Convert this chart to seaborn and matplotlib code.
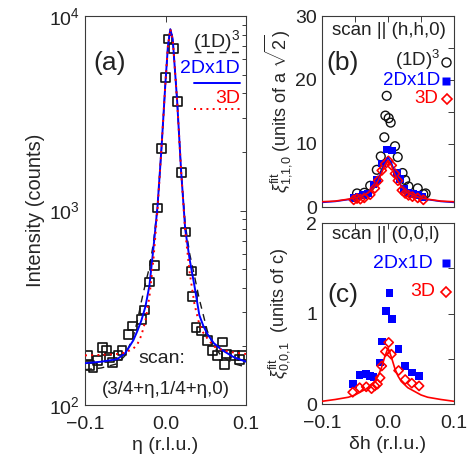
import matplotlib
matplotlib.use("Agg")
import matplotlib.pyplot as plt
import seaborn as sns
from matplotlib.ticker import FixedLocator, LogLocator, NullFormatter

# ---------------- data: panel (a) ----------------
eta_pts = [-0.0965, -0.094, -0.090, -0.084, -0.078, -0.0737, -0.0696, -0.0655, -0.059, -0.054,
           -0.0456, -0.0406, -0.030, -0.026, -0.0199, -0.0137, -0.0103, -0.0053, 0.0, 0.003,
           0.0103, 0.0145, 0.0195, 0.0245, 0.0319, 0.034, 0.038, 0.0443, 0.0518, 0.0588,
           0.065, 0.0704, 0.0733, 0.0754, 0.0857, 0.092, 0.096]
counts_pts = [179, 160, 156, 169, 198, 190, 176, 165, 179, 190,
              231, 255, 276, 308, 429, 522, 1030, 2090, 4830, 7620,
              6780, 3630, 1570, 775, 489, 363, 250, 240, 214, 190,
              179, 211, 162, 183, 179, 172, 179]

eta_fit = [-0.100, -0.080, -0.060, -0.050, -0.040, -0.035, -0.030, -0.025, -0.020, -0.015,
           -0.010, -0.005, 0.000, 0.003, 0.006, 0.009, 0.0145, 0.0195, 0.0245, 0.030,
           0.036, 0.042, 0.047, 0.052, 0.060, 0.070, 0.085, 0.100]
fit_2dx1d = [164, 167, 172, 185, 215, 240, 272, 320, 410, 640,
             1040, 2090, 4600, 7000, 8550, 7600, 3630, 1570, 800, 560,
             409, 290, 255, 232, 208, 192, 176, 167]
fit_3d = [180, 181, 183, 186, 195, 205, 228, 270, 360, 560,
          1000, 2090, 4600, 7000, 8550, 7600, 3630, 1570, 780, 480,
          330, 260, 235, 220, 200, 192, 186, 183]
fit_1d3 = [152, 155, 163, 180, 225, 270, 340, 420, 510, 680,
           1040, 2090, 4600, 7000, 8550, 7600, 3630, 1570, 850, 600,
           460, 350, 290, 240, 200, 178, 163, 157]

# ---------------- data: panel (b) ----------------
dh_b_1d3 = [-0.047, -0.036, -0.027, -0.017, -0.011, -0.0056, -0.004, -0.002, 0.001, 0.004,
            0.0106, 0.0147, 0.022, 0.026, 0.031, 0.045, 0.0535, 0.057]
xi_b_1d3 = [2.2, 2.3, 3.4, 5.9, 8.0, 11.0, 14.4, 17.5, 14.0, 13.3,
            9.6, 7.9, 5.4, 4.3, 3.3, 3.0, 2.1, 2.2]
dh_b_2d = [-0.052, -0.045, -0.038, -0.030, -0.022, -0.017, -0.0095, -0.002, 0.0056, 0.014,
           0.018, 0.024, 0.030, 0.038, 0.045, 0.052]
xi_b_2d = [1.5, 1.7, 2.0, 2.2, 3.6, 4.3, 6.9, 9.1, 8.9, 5.4,
           4.5, 2.9, 2.3, 2.1, 2.0, 1.6]
dh_b_3d = [-0.052, -0.047, -0.042, -0.036, -0.027, -0.020, -0.015, -0.0095, -0.0045, 0.0005,
           0.0056, 0.0106, 0.015, 0.021, 0.026, 0.031, 0.037, 0.045, 0.0535]
xi_b_3d = [1.2, 1.4, 1.3, 1.5, 2.0, 3.0, 4.2, 5.8, 6.8, 7.3,
           6.6, 5.3, 4.2, 2.7, 2.2, 1.9, 1.7, 1.5, 1.2]
dh_line = [-0.10, -0.08, -0.06, -0.05, -0.04, -0.03, -0.02, -0.015, -0.01, -0.005, 0.0,
           0.005, 0.01, 0.015, 0.02, 0.03, 0.04, 0.05, 0.06, 0.08, 0.10]
xi_b_line_2d = [0.8, 0.95, 1.25, 1.5, 1.8, 2.35, 3.4, 4.4, 5.6, 7.0, 7.8,
                7.0, 5.6, 4.4, 3.4, 2.35, 1.8, 1.5, 1.25, 0.95, 0.8]
xi_b_line_3d = [0.9, 1.0, 1.3, 1.5, 1.8, 2.3, 3.3, 4.2, 5.3, 6.6, 7.4,
                6.6, 5.3, 4.2, 3.3, 2.3, 1.8, 1.5, 1.3, 1.0, 0.9]

# ---------------- data: panel (c) ----------------
dh_c_2d = [-0.0535, -0.043, -0.033, -0.027, -0.022, -0.012, -0.009, -0.0035, 0.002, 0.006,
           0.016, 0.026, 0.036, 0.047]
xi_c_2d = [0.22, 0.32, 0.33, 0.31, 0.30, 0.46, 0.69, 1.03, 1.23, 0.94,
           0.61, 0.42, 0.35, 0.31]
dh_c_3d = [-0.0535, -0.043, -0.033, -0.025, -0.020, -0.016, -0.012, -0.0095, -0.004, 0.001,
           0.005, 0.016, 0.026, 0.036, 0.047]
xi_c_3d = [0.13, 0.18, 0.19, 0.17, 0.20, 0.22, 0.29, 0.42, 0.58, 0.68,
           0.55, 0.37, 0.27, 0.23, 0.20]
xi_c_line_3d = [0.03, 0.05, 0.075, 0.10, 0.14, 0.18, 0.25, 0.31, 0.40, 0.52, 0.62,
                0.52, 0.40, 0.31, 0.25, 0.18, 0.14, 0.10, 0.075, 0.05, 0.03]

x_ticks = [-0.1, 0.0, 0.1]
x_ticklabels = ["\u22120.1", "0.0", "0.1"]
x_minor = [-0.05, 0.05]
b_yticks = [0, 10, 20, 30]
b_yminor = [5, 15, 25]
c_yticks = [0, 1, 2]
c_yminor = [0.5, 1.5]

# ---------------- style ----------------
sns.set_theme(style="white")
plt.rcParams["font.family"] = ["Liberation Sans", "DejaVu Sans"]
plt.rcParams["mathtext.fontset"] = "custom"
plt.rcParams["mathtext.rm"] = "Liberation Sans"
plt.rcParams["mathtext.it"] = "Liberation Sans:italic"
plt.rcParams["axes.unicode_minus"] = True

SP = "#3a3a3a"
FS = 14
TFS = 14
TXT = "#222222"
BLUE = "#0000ff"
RED = "#ff0000"

fig = plt.figure(figsize=(4.73, 4.59), dpi=100)
axa = fig.add_axes([0.1797, 0.1176, 0.3404, 0.8475])
axb = fig.add_axes([0.6808, 0.548, 0.2791, 0.417])
axc = fig.add_axes([0.6808, 0.1198, 0.2791, 0.3943])


def style(ax):
    for s in ax.spines.values():
        s.set_color(SP)
        s.set_linewidth(0.8)
    ax.tick_params(which="both", direction="in", top=True, right=True, color=SP,
                   labelsize=TFS, labelcolor=TXT, pad=3.5)
    ax.tick_params(axis="x", which="both", pad=8)
    ax.tick_params(which="major", length=4.5, width=0.7)
    ax.tick_params(which="minor", length=2.8, width=0.7)


# ---------------- panel (a) ----------------
axa.set_yscale("log")
sns.scatterplot(x=eta_pts, y=counts_pts, ax=axa, marker="s", s=40, facecolors="none",
                edgecolor="#111111", linewidth=1.2, zorder=2)
sns.lineplot(x=eta_fit, y=fit_1d3, ax=axa, color="k", linestyle=(0, (5, 4)), lw=1.0,
             estimator=None, sort=False, zorder=3)
sns.lineplot(x=eta_fit, y=fit_2dx1d, ax=axa, color=BLUE, lw=1.4, estimator=None,
             sort=False, zorder=4)
sns.lineplot(x=eta_fit, y=fit_3d, ax=axa, color=RED, linestyle=(0, (1, 2.2)), lw=1.4,
             estimator=None, sort=False, zorder=5)
axa.set_xlim(-0.1, 0.1)
axa.set_ylim(100, 10000)
axa.xaxis.set_major_locator(FixedLocator(x_ticks))
axa.set_xticklabels(x_ticklabels)
axa.yaxis.set_major_locator(LogLocator(base=10, numticks=5))
axa.yaxis.set_minor_locator(LogLocator(base=10, subs=range(2, 10), numticks=20))
axa.yaxis.set_minor_formatter(NullFormatter())
style(axa)
axa.set_xlabel("\u03b7 (r.l.u.)", fontsize=FS, labelpad=3)
axa.set_ylabel("Intensity (counts)", fontsize=14.5, labelpad=3)

T = axa.transAxes
axa.text(0.155, 0.879, "(a)", transform=T, fontsize=19, ha="center", va="center", color=TXT)
axa.text(0.963, 0.935, r"(1D)$^{3}$", transform=T, fontsize=FS, ha="right", va="center", color=TXT)
axa.plot([0.677, 0.963], [0.907, 0.907], transform=T, color="k", ls=(0, (5, 4)), lw=1.0)
axa.text(0.963, 0.866, "2Dx1D", transform=T, fontsize=FS, ha="right", va="center", color=BLUE)
axa.plot([0.677, 0.963], [0.828, 0.828], transform=T, color=BLUE, lw=1.4)
axa.text(0.963, 0.787, "3D", transform=T, fontsize=FS, ha="right", va="center", color=RED)
axa.plot([0.677, 0.963], [0.761, 0.761], transform=T, color=RED, ls=(0, (1, 2.2)), lw=1.4)
axa.text(0.48, 0.12, "scan:", transform=T, fontsize=FS, ha="center", va="center", color=TXT)
axa.text(0.50, 0.04, "(3/4+\u03b7,1/4+\u03b7,0)", transform=T, fontsize=13.5, ha="center",
         va="center", color=TXT)

# ---------------- panel (b) ----------------
sns.scatterplot(x=dh_b_1d3, y=xi_b_1d3, ax=axb, marker="o", s=40, facecolors="none",
                edgecolor="#111111", linewidth=1.0, zorder=2)
sns.scatterplot(x=dh_b_2d, y=xi_b_2d, ax=axb, marker="s", s=30, color=BLUE,
                edgecolor="none", linewidth=0, zorder=3)
sns.scatterplot(x=dh_b_3d, y=xi_b_3d, ax=axb, marker="D", s=22, facecolors="none",
                edgecolor=RED, linewidth=1.2, zorder=4)
sns.lineplot(x=dh_line, y=xi_b_line_2d, ax=axb, color=BLUE, lw=1.2, estimator=None,
             sort=False, zorder=5)
sns.lineplot(x=dh_line, y=xi_b_line_3d, ax=axb, color=RED, lw=1.2, estimator=None,
             sort=False, zorder=6)
axb.set_xlim(-0.1, 0.1)
axb.set_ylim(0, 30)
axb.xaxis.set_major_locator(FixedLocator(x_ticks))
axb.xaxis.set_minor_locator(FixedLocator(x_minor))
axb.set_xticklabels([])
axb.yaxis.set_major_locator(FixedLocator(b_yticks))
axb.yaxis.set_minor_locator(FixedLocator(b_yminor))
style(axb)
axb.tick_params(which="minor", length=4.5)
axb.set_ylabel(r"$\xi^{\rm fit}_{\text{1,1,0}}$ (units of a $\sqrt{2}$)", fontsize=13, labelpad=1)

T = axb.transAxes
axb.text(0.076, 0.927, "scan || (h,h,0)", transform=T, fontsize=13.5, ha="left", va="center", color=TXT)
axb.text(0.159, 0.755, "(b)", transform=T, fontsize=19, ha="center", va="center", color=TXT)
axb.text(0.894, 0.772, r"(1D)$^{3}$", transform=T, fontsize=13.5, ha="right", va="center", color=TXT)
axb.plot([0.939], [0.762], transform=T, marker="o", ms=6.5, mfc="none", mec="#111111", mew=1.0, clip_on=False)
axb.text(0.894, 0.662, "2Dx1D", transform=T, fontsize=13.5, ha="right", va="center", color=BLUE)
axb.plot([0.939], [0.662], transform=T, marker="s", ms=5.5, mfc=BLUE, mec="none", clip_on=False)
axb.text(0.879, 0.568, "3D", transform=T, fontsize=13.5, ha="right", va="center", color=RED)
axb.plot([0.947], [0.565], transform=T, marker="D", ms=4.6, mfc="none", mec=RED, mew=1.2, clip_on=False)

# ---------------- panel (c) ----------------
sns.scatterplot(x=dh_c_2d, y=xi_c_2d, ax=axc, marker="s", s=30, color=BLUE,
                edgecolor="none", linewidth=0, zorder=3)
sns.scatterplot(x=dh_c_3d, y=xi_c_3d, ax=axc, marker="D", s=22, facecolors="none",
                edgecolor=RED, linewidth=1.2, zorder=4)
sns.lineplot(x=dh_line, y=xi_c_line_3d, ax=axc, color=RED, lw=1.2, estimator=None,
             sort=False, zorder=5)
axc.set_xlim(-0.1, 0.1)
axc.set_ylim(0, 2)
axc.xaxis.set_major_locator(FixedLocator(x_ticks))
axc.xaxis.set_minor_locator(FixedLocator(x_minor))
axc.set_xticklabels(x_ticklabels)
axc.yaxis.set_major_locator(FixedLocator(c_yticks))
axc.yaxis.set_minor_locator(FixedLocator(c_yminor))
style(axc)
axc.tick_params(which="minor", length=4.5)
axc.set_xlabel("\u03b4h (r.l.u.)", fontsize=FS, labelpad=3)
axc.set_ylabel(r"$\xi^{\rm fit}_{\text{0,0,1}}$  (units of c)", fontsize=13, labelpad=10)

T = axc.transAxes
axc.text(0.076, 0.934, "scan || (0,0,l)", transform=T, fontsize=13.5, ha="left", va="center", color=TXT)
axc.text(0.159, 0.602, "(c)", transform=T, fontsize=19, ha="center", va="center", color=TXT)
axc.text(0.841, 0.779, "2Dx1D", transform=T, fontsize=FS, ha="right", va="center", color=BLUE)
axc.plot([0.937], [0.779], transform=T, marker="s", ms=5.5, mfc=BLUE, mec="none", clip_on=False)
axc.text(0.856, 0.62, "3D", transform=T, fontsize=FS, ha="right", va="center", color=RED)
axc.plot([0.94], [0.62], transform=T, marker="D", ms=4.6, mfc="none", mec=RED, mew=1.2, clip_on=False)

for ax in (axa, axb, axc):
    leg = ax.get_legend()
    if leg is not None:
        leg.remove()

fig.savefig("out.png", dpi=100)
